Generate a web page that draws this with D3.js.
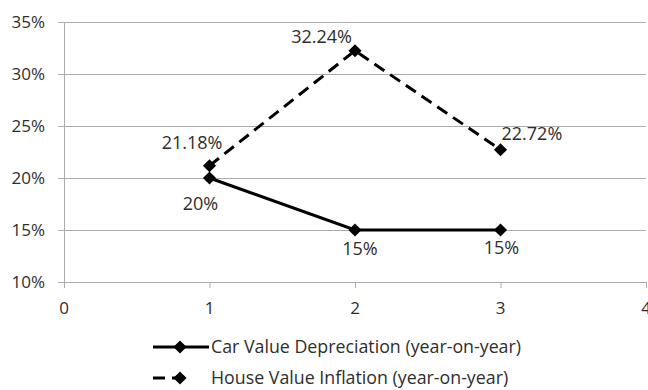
<!DOCTYPE html>
<html><head><meta charset="utf-8">
<script src="https://cdn.jsdelivr.net/npm/d3@7"></script>
<style>body{margin:0;background:#fff}svg{display:block}text{font-family:"Open Sans","Liberation Sans",sans-serif;fill:#2e2e2e}</style>
</head><body><svg id="c" width="648" height="390"></svg>
<script>
const xValues = [1, 2, 3];
const carValues = [20, 15, 15];
const houseValues = [21.18, 32.24, 22.72];
const carLabels = ["20%", "15%", "15%"];
const houseLabels = ["21.18%", "32.24%", "22.72%"];
const yTicks = [10, 15, 20, 25, 30, 35];
const xTicks = [0, 1, 2, 3, 4];
const seriesNames = ["Car Value Depreciation (year-on-year)", "House Value Inflation (year-on-year)"];

const svg = d3.select("#c");
const x = d3.scaleLinear().domain([0, 4]).range([64, 646]);
const y = d3.scaleLinear().domain([10, 35]).range([282, 22]);

// grid
svg.append("g").selectAll("line").data(yTicks).join("line")
  .attr("x1", 58).attr("x2", 646).attr("y1", d => y(d)+0.5).attr("y2", d => y(d)+0.5)
  .attr("stroke", "#ababab").attr("stroke-width", 1);
svg.append("line").attr("x1", 64.5).attr("x2", 64.5).attr("y1", y(35)).attr("y2", y(10))
  .attr("stroke", "#ababab");
svg.append("g").selectAll("line").data(xTicks).join("line")
  .attr("x1", d => x(d)+0.5).attr("x2", d => x(d)+0.5).attr("y1", y(10)).attr("y2", y(10)+6)
  .attr("stroke", "#ababab");
// y labels
svg.append("g").selectAll("text").data(yTicks).join("text")
  .attr("x", 45).attr("y", d => y(d)+6).attr("text-anchor", "end")
  .attr("font-size", 17).text(d => d + "%");
// x labels
svg.append("g").selectAll("text").data(xTicks).join("text")
  .attr("x", d => x(d)).attr("y", 314).attr("text-anchor", "middle")
  .attr("font-size", 17).text(d => d);

const line = d3.line().x(d => x(d[0])).y(d => y(d[1]));
const carPts = xValues.map((v, i) => [v, carValues[i]]);
const housePts = xValues.map((v, i) => [v, houseValues[i]]);

svg.append("path").attr("d", line(housePts)).attr("fill", "none").attr("stroke", "#000")
  .attr("stroke-width", 3).attr("stroke-dasharray", "12,7");
svg.append("path").attr("d", line(carPts)).attr("fill", "none").attr("stroke", "#000")
  .attr("stroke-width", 3);

const diamond = d3.symbol().type(d3.symbolDiamond2).size(110);
function markers(pts) {
  svg.append("g").selectAll("path").data(pts).join("path")
    .attr("d", diamond).attr("transform", d => `translate(${x(d[0])},${y(d[1])})`)
    .attr("fill", "#000");
}
markers(housePts);
markers(carPts);

// data labels
const houseOff = [[13, -17, "end"], [-3, -8, "end"], [1, -10, "start"]];
const carOff = [[-9, 32, "middle"], [5, 25, "middle"], [1, 24, "middle"]];
svg.append("g").selectAll("text").data(housePts).join("text")
  .attr("x", (d, i) => x(d[0]) + houseOff[i][0]).attr("y", (d, i) => y(d[1]) + houseOff[i][1])
  .attr("text-anchor", (d, i) => houseOff[i][2]).attr("font-size", 18).text((d, i) => houseLabels[i]);
svg.append("g").selectAll("text").data(carPts).join("text")
  .attr("x", (d, i) => x(d[0]) + carOff[i][0]).attr("y", (d, i) => y(d[1]) + carOff[i][1])
  .attr("text-anchor", (d, i) => carOff[i][2]).attr("font-size", 18).text((d, i) => carLabels[i]);

// legend
const lg = svg.append("g");
const rows = [347, 378];
lg.append("line").attr("x1", 153).attr("x2", 209).attr("y1", rows[0]).attr("y2", rows[0])
  .attr("stroke", "#000").attr("stroke-width", 3);
lg.append("line").attr("x1", 153).attr("x2", 190).attr("y1", rows[1]).attr("y2", rows[1])
  .attr("stroke", "#000").attr("stroke-width", 3).attr("stroke-dasharray", "12,7");
rows.forEach(r => lg.append("path").attr("d", diamond).attr("transform", `translate(180,${r})`).attr("fill", "#000"));
lg.selectAll("text").data(seriesNames).join("text")
  .attr("x", 211).attr("y", (d, i) => rows[i] + 6).attr("font-size", 17.8).text(d => d);
</script></body></html>
